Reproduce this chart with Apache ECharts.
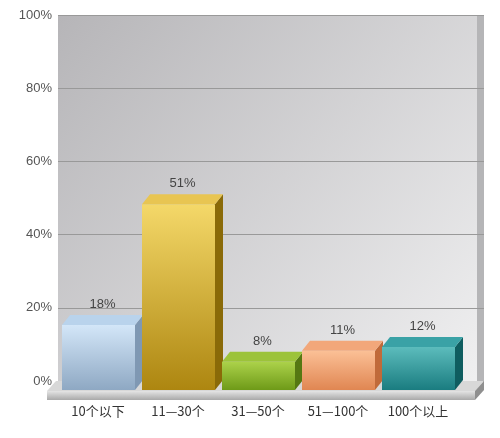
<!DOCTYPE html>
<html>
<head>
<meta charset="utf-8">
<script src="https://cdn.jsdelivr.net/npm/echarts@6/dist/echarts.min.js"></script>
<style>html,body{margin:0;padding:0;background:#fff}</style>
</head>
<body>
<div id="main" style="width:500px;height:438px;"></div>
<script>
var categories = ['10个以下', '11—30个', '31—50个', '51—100个', '100个以上'];
var values = [18, 51, 8, 11, 12];
var yTicks = [0, 20, 40, 60, 80, 100];

var faces = [
    ['#d3e6f8', '#8ea8c3', '#7f98b3', '#b9d3ec'],
    ['#f4d869', '#ad8610', '#8a6a08', '#e8c552'],
    ['#acd24a', '#6e9a18', '#557812', '#9cc33a'],
    ['#fbc096', '#e08652', '#c06a3a', '#f2a77a'],
    ['#5cbcbc', '#1a7c80', '#0f5d60', '#3aa2a6']
];

var chart = echarts.init(document.getElementById('main'));
var dx = 8, dy = 10;

chart.setOption({
    backgroundColor: '#fff',
    grid: [
        { left: 58, right: 16, top: 15, bottom: 57 },
        { left: 58, right: 42, top: 15, bottom: 57 }
    ],
    graphic: [
        { type: 'rect', z: -10, shape: { x: 58, y: 15, width: 426, height: 366 },
          style: { fill: new echarts.graphic.LinearGradient(0, 0, 1, 1, [
              { offset: 0, color: '#b6b5b8' }, { offset: 1, color: '#f0f0f1' }]) } },
        { type: 'rect', z: -9, shape: { x: 477, y: 15, width: 7, height: 366 },
          style: { fill: '#b5b5b7' } },
        { type: 'polygon', z: 50, shape: { points: [[47, 391], [56, 381], [484, 381], [475, 391]] },
          style: { fill: '#d8d8d8' } },
        { type: 'rect', z: 50, shape: { x: 47, y: 391, width: 428, height: 9 },
          style: { fill: new echarts.graphic.LinearGradient(0, 0, 0, 1, [
              { offset: 0, color: '#e4e4e4' }, { offset: 1, color: '#a9a9a9' }]) } },
        { type: 'polygon', z: 50, shape: { points: [[475, 391], [484, 381], [484, 390], [475, 400]] },
          style: { fill: '#8f8f8f' } }
    ],
    xAxis: [
        { type: 'category', gridIndex: 0, show: false, data: categories },
        {
            type: 'category', gridIndex: 1,
            data: categories,
            axisLine: { show: false },
            axisTick: { show: false },
            axisLabel: { color: '#333', fontSize: 13, margin: 24,
                fontFamily: 'Noto Sans CJK SC' }
        }
    ],
    yAxis: [
        {
            type: 'value', gridIndex: 0,
            min: 0, max: 100, interval: 20,
            axisLine: { show: false },
            axisTick: { show: false },
            axisLabel: { color: '#555', fontSize: 13, formatter: '{value}%', margin: 6 },
            splitLine: { lineStyle: { color: '#999' } }
        },
        { type: 'value', gridIndex: 1, min: 0, max: 100, interval: 20, show: false }
    ],
    series: [{
        type: 'custom',
        xAxisIndex: 1, yAxisIndex: 1,
        z: 60,
        data: values.map(function (v, i) { return [i, v]; }),
        renderItem: function (params, api) {
            var i = api.value(0), v = api.value(1);
            var top = api.coord([i, v]);
            var base = api.coord([i, 0]);
            var bw = api.size([1, 0])[0];
            var fl = top[0] - bw / 2 + 4, fr = fl + bw - 7;
            var yTop = top[1], fTop = yTop + dy, y0 = base[1] + 9;
            var c = faces[i];
            return {
                type: 'group',
                children: [
                    { type: 'rect', shape: { x: fl, y: fTop, width: fr - fl, height: y0 - fTop },
                      style: { fill: new echarts.graphic.LinearGradient(0, 0, 0, 1, [
                          { offset: 0, color: c[0] }, { offset: 1, color: c[1] }]) } },
                    { type: 'polygon', shape: { points: [[fr, fTop], [fr + dx, yTop], [fr + dx, y0 - dy], [fr, y0]] },
                      style: { fill: c[2] } },
                    { type: 'polygon', shape: { points: [[fl, fTop], [fl + dx, yTop], [fr + dx, yTop], [fr, fTop]] },
                      style: { fill: c[3] } },
                    { type: 'text', x: (fl + fr) / 2 + 4, y: yTop - 4,
                      style: { text: v + '%', fill: '#444', fontSize: 13, align: 'center', verticalAlign: 'bottom' } }
                ]
            };
        }
    }]
});
</script>
</body>
</html>
